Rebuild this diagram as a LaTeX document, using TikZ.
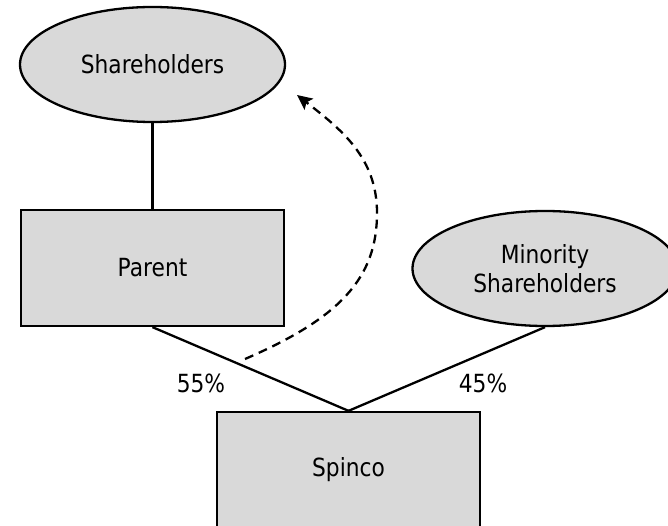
\documentclass[tikz,border=0pt]{standalone}
\usepackage{fontspec}
\setmainfont[FakeStretch=0.87]{DejaVu Sans}
\usetikzlibrary{shapes.geometric,arrows.meta}
\definecolor{boxfill}{RGB}{217,217,217}
\begin{document}
\begin{tikzpicture}[x=1pt,y=-1pt,
  font=\fontsize{25}{29}\selectfont,
  every node/.style={inner sep=0pt},
  holder/.style={ellipse,draw,line width=2.3pt,fill=boxfill,minimum width=265pt,minimum height=115pt,align=center},
  entity/.style={rectangle,draw,line width=2.3pt,fill=boxfill,minimum width=263pt,minimum height=116pt},
  link/.style={line width=2.3pt},
  flow/.style={line width=2.3pt,dash pattern=on 9pt off 6pt,-{Stealth[length=15pt,width=14pt,inset=3pt]}}]
\useasboundingbox (0,0) rectangle (668,526);
\node[holder] (sh) at (152.5,64.5) {Shareholders};
\node[entity] (parent) at (152.5,268) {Parent};
\node[holder] (minority) at (545,268.5) {Minority\\Shareholders};
\node[entity] (spinco) at (348.5,470) {Spinco};
\draw[link] (sh.south) -- (parent.north);
\draw[link] (parent.south) -- (spinco.north);
\draw[link] (minority.south) -- (spinco.north);
\node (p55) at (201,383) {55\%};
\node (p45) at (483,383) {45\%};
\coordinate (dstart) at (245,359);
\coordinate (dmid) at (377,213);
\coordinate (dend) at (297,95);
\draw[flow] (dstart) .. controls (340,318) and (377,278) .. (dmid)
  .. controls (377,158) and (342,130) .. (dend);
\end{tikzpicture}
\end{document}
